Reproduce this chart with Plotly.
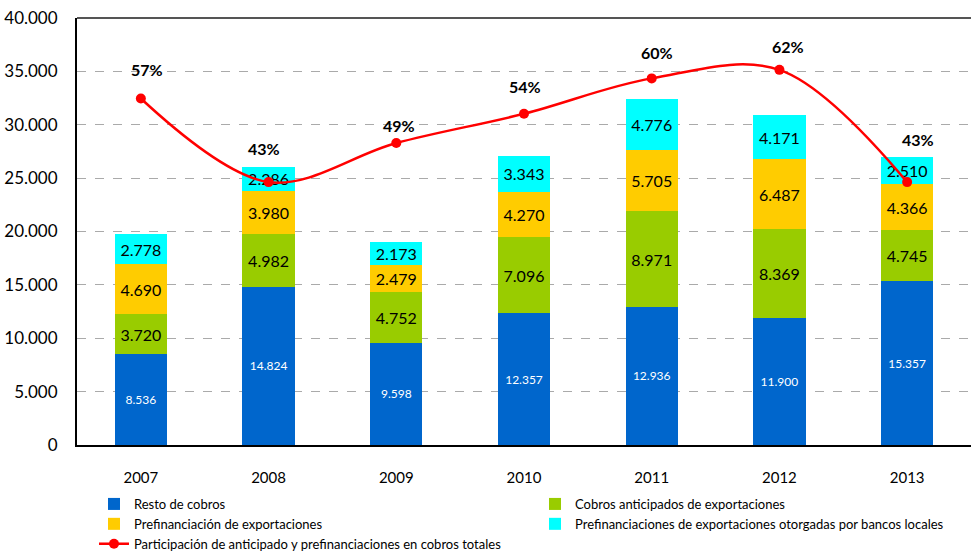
import plotly.graph_objects as go

years = ["2007", "2008", "2009", "2010", "2011", "2012", "2013"]
resto = [8536, 14824, 9598, 12357, 12936, 11900, 15357]
cobros_anticipados = [3720, 4982, 4752, 7096, 8971, 8369, 4745]
prefinanciacion = [4690, 3980, 2479, 4270, 5705, 6487, 4366]
prefin_bancos = [2778, 2286, 2173, 3343, 4776, 4171, 2510]
participacion = [0.568, 0.431, 0.495, 0.543, 0.601, 0.615, 0.431]
pct_labels = ["57%", "43%", "49%", "54%", "60%", "62%", "43%"]

# label offsets (style only)
label_yshift = [29, 34, 18, 27, 26, 23, 43]
label_xshift = [6, -5, 3, 1, 5, 9, 11]

FONT = "Lato, 'Open Sans', sans-serif"

fig = go.Figure()

def add_bar(name, vals, color, txtcolor, txtsize):
    fig.add_trace(go.Bar(
        x=years, y=vals, name=name, marker=dict(color=color, line=dict(width=0)),
        texttemplate="%{y:,.0f}", textposition="inside", insidetextanchor="middle",
        textfont=dict(color=txtcolor, size=txtsize, family=FONT),
        constraintext="none", hoverinfo="skip"))

add_bar("Resto de cobros", resto, "#0066CC", "white", 12)
add_bar("Cobros anticipados de exportaciones", cobros_anticipados, "#99CC00", "black", 16)
add_bar("Prefinanciación de exportaciones", prefinanciacion, "#FFCC00", "black", 16)
add_bar("Prefinanciaciones de exportaciones otorgadas por bancos locales", prefin_bancos, "#00FFFF", "black", 16)

fig.add_trace(go.Scatter(
    x=years, y=participacion, yaxis="y2", name="Participación de anticipado y prefinanciaciones en cobros totales",
    mode="lines+markers", line=dict(color="#FF0000", width=2.5, shape="spline", smoothing=1.0),
    marker=dict(color="#FF0000", size=10), hoverinfo="skip"))

# category axis: annotations are positioned by category index
for i, (v, lab) in enumerate(zip(participacion, pct_labels)):
    fig.add_annotation(x=i, y=v, xref="x", yref="y2", text="<b>" + lab + "</b>", showarrow=False,
                       yshift=label_yshift[i], xshift=label_xshift[i],
                       font=dict(size=16, color="black", family=FONT))

fig.update_layout(
    width=971, height=552,
    margin=dict(l=77, r=0, t=18, b=107, autoexpand=False),
    barmode="stack", bargap=0.59,
    separators=",.",
    plot_bgcolor="white", paper_bgcolor="white",
    font=dict(family=FONT, color="black"),
    showlegend=True,
    legend=dict(orientation="h", x=0.019, xanchor="left", y=-0.103, yanchor="top",
                traceorder="normal", entrywidth=396, entrywidthmode="pixels",
                font=dict(size=13, family=FONT), tracegroupgap=0, itemwidth=30),
    xaxis=dict(type="category", showline=True, linecolor="black", linewidth=2, mirror=False,
               ticks="", tickfont=dict(size=15), ticklabelstandoff=18, range=[-0.5, 6.5]),
    yaxis=dict(range=[0, 40000], dtick=5000, tickformat=",.0f",
               showgrid=True, gridcolor="#AAAAAA", griddash="dash", gridwidth=1,
               showline=True, linecolor="black", linewidth=2, ticklabeloverflow="allow",
               zeroline=False, ticks="", tickfont=dict(size=17), ticklabelstandoff=14),
    yaxis2=dict(range=[0, 0.7], overlaying="y", side="right", showgrid=False,
                showticklabels=False, showline=False, zeroline=False, ticks=""),
)

fig.add_shape(type="line", xref="paper", yref="paper", x0=0, x1=1, y0=1, y1=1,
              line=dict(color="#555555", width=2))

fig.write_html("out.html", config={"displayModeBar": False},
               post_script="document.body.style.margin='0';document.body.style.overflow='hidden';")
